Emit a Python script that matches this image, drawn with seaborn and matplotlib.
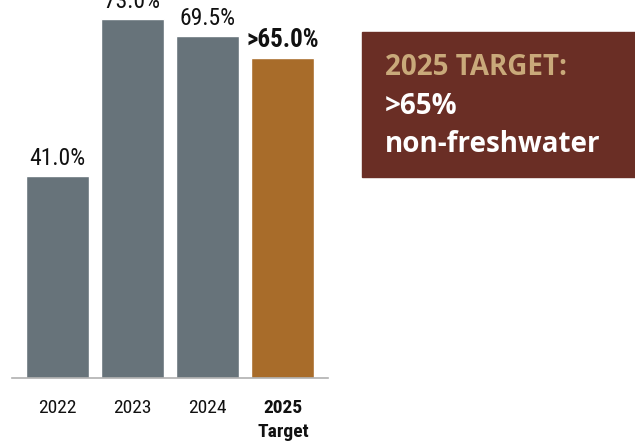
import matplotlib
matplotlib.use("Agg")
import matplotlib.pyplot as plt
from matplotlib.patches import Rectangle
from matplotlib import font_manager
import seaborn as sns

categories = ["2022", "2023", "2024", "2025\nTarget"]
values = [41.0, 73.0, 69.5, 65.0]
value_labels = ["41.0%", "73.0%", "69.5%", ">65.0%"]
bar_colors = ["#67737a", "#67737a", "#67737a", "#a86c2a"]

sns.set_theme(style="white")
names = {f.name for f in font_manager.fontManager.ttflist}
narrow = [f for f in ["Liberation Sans Narrow", "Roboto Condensed", "DejaVu Sans"] if f in names]
plt.rcParams["font.family"] = narrow

W, H = 635, 443
fig = plt.figure(figsize=(W / 100, H / 100), dpi=100)
ax = fig.add_axes([12 / W, 65 / H, 316 / W, 378 / H])

sns.barplot(x=categories, y=values, hue=categories, palette=bar_colors,
            legend=False, width=0.84, saturation=1, ax=ax)

ax.set_xlim(-0.6, 3.6)
ax.set_ylim(0, 378 / 4.92)
ax.set_xlabel("")
ax.set_ylabel("")
ax.set_yticks([])
for s in ["top", "right", "left"]:
    ax.spines[s].set_visible(False)
ax.spines["bottom"].set_color("#b0b0b0")
ax.spines["bottom"].set_linewidth(1.2)
ax.tick_params(axis="x", length=0, pad=15, labelsize=14, colors="#111111")
for i, t in enumerate(ax.get_xticklabels()):
    t.set_va("top")
    t.set_linespacing(1.45)
    if i == 3:
        t.set_fontweight("bold")

for i, (v, lab) in enumerate(zip(values, value_labels)):
    ax.text(i, v + 1.2, lab, ha="center", va="bottom",
            fontsize=18 if i == 3 else 17,
            color="#111111", fontweight="bold" if i == 3 else "normal",
            clip_on=False)

# target callout box
fig.patches.append(Rectangle((362 / W, 1 - 177 / H), (W - 362) / W, 145 / H,
                             transform=fig.transFigure, color="#6a2e25", zorder=0))
box_font = ["Open Sans", "DejaVu Sans"]
fig.text(385 / W, 1 - 75 / H, "2025 TARGET:", fontsize=20, fontweight="bold",
         color="#c9a97a", family=box_font, va="baseline")
fig.text(385 / W, 1 - 114 / H, ">65%", fontsize=20, fontweight="bold",
         color="white", family=box_font, va="baseline")
fig.text(385 / W, 1 - 152 / H, "non-freshwater", fontsize=20, fontweight="bold",
         color="white", family=box_font, va="baseline")

fig.savefig("out.png", dpi=100)
